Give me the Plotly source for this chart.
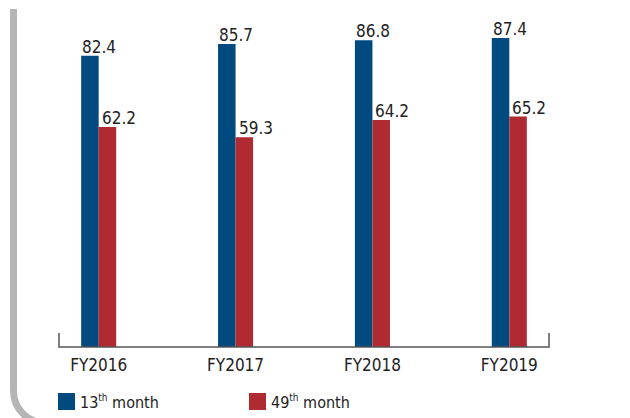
import plotly.graph_objects as go

categories = ["FY2016", "FY2017", "FY2018", "FY2019"]
month13 = [82.4, 85.7, 86.8, 87.4]
month49 = [62.2, 59.3, 64.2, 65.2]
series_names = ["13<sup><span style='font-size:10px'>th</span></sup> month",
                "49<sup><span style='font-size:10px'>th</span></sup> month"]

BLUE = "#004a80"
RED = "#b02a31"
GRAY = "#b5b5b5"
TEXT = "#222222"
FONT = "DejaVu Sans Condensed, Liberation Sans Narrow, sans-serif"

OFF = 8  # page body margin
W, H = 630 - OFF, 418 - OFF
L, R, T, B = 59 - OFF, 549 - OFF, 11 - OFF, 347 - OFF  # plot area pixel bounds (figure coords)


def px(xp):
    xp -= OFF
    return (xp - L) / (R - L)


def py(yp):
    yp -= OFF
    return (B - yp) / (B - T)


BW = 0.128
xs = list(range(len(categories)))

fig = go.Figure()
fig.add_trace(go.Bar(x=xs, y=month13, width=BW, offset=-BW, marker=dict(color=BLUE, line=dict(width=0)),
                     name="13th month", showlegend=False, hoverinfo="skip"))
fig.add_trace(go.Bar(x=xs, y=month49, width=BW, offset=0, marker=dict(color=RED, line=dict(width=0)),
                     name="49th month", showlegend=False, hoverinfo="skip"))

annotations = []
for i, (a, b) in enumerate(zip(month13, month49)):
    annotations.append(dict(x=i - BW, y=a, xref="x", yref="y", text=f"{a:.1f}", showarrow=False,
                            xanchor="left", yanchor="bottom", xshift=-1, yshift=-3,
                            font=dict(family=FONT, size=17, color=TEXT)))
    annotations.append(dict(x=i, y=b, xref="x", yref="y", text=f"{b:.1f}", showarrow=False,
                            xanchor="left", yanchor="bottom", xshift=1, yshift=-3,
                            font=dict(family=FONT, size=17, color=TEXT)))

# legend (manual)
leg = [(58, series_names[0], BLUE), (249, series_names[1], RED)]
shapes = []
for x0, name, col in leg:
    shapes.append(dict(type="rect", xref="paper", yref="paper", x0=px(x0), x1=px(x0 + 17),
                       y0=py(410), y1=py(393), fillcolor=col, line=dict(width=0)))
    annotations.append(dict(x=px(x0 + 20), y=py(402), xref="paper", yref="paper", text=name,
                            showarrow=False, xanchor="left", yanchor="middle",
                            font=dict(family=FONT, size=16, color=TEXT)))

# axis line with upturned ends
up = 14
shapes.append(dict(type="path", xref="paper", yref="paper",
                   path=f"M {px(59)},{py(347-up)} L {px(59)},{py(347)} L {px(549)},{py(347)} L {px(549)},{py(347-up)}",
                   line=dict(color="#555555", width=1.5)))

# rounded gray frame on the left/bottom
xl, yt, yb, r = 13.5, 9, 423, 32
k = 0.5523 * r
frame = (f"M {px(xl)},{py(yt)} L {px(xl)},{py(yb - r)} "
         f"C {px(xl)},{py(yb - r + k)} {px(xl + r - k)},{py(yb)} {px(xl + r)},{py(yb)} "
         f"L {px(700)},{py(yb)}")
shapes.append(dict(type="path", xref="paper", yref="paper", path=frame,
                   line=dict(color=GRAY, width=7)))

fig.update_layout(
    width=W, height=H,
    margin=dict(l=L, r=W - R, t=T, b=H - B, pad=0),
    paper_bgcolor="white", plot_bgcolor="white",
    xaxis=dict(range=[-0.29, 3.29], tickvals=xs, ticktext=categories, showgrid=False, zeroline=False,
               showline=False, ticks="", ticklabelstandoff=6,
               tickfont=dict(family=FONT, size=17, color=TEXT), fixedrange=True),
    yaxis=dict(range=[0, (B - T) / 3.535], visible=False, showgrid=False, zeroline=False, fixedrange=True),
    shapes=shapes,
    annotations=annotations,
    showlegend=False,
)

fig.write_html("out.html")
